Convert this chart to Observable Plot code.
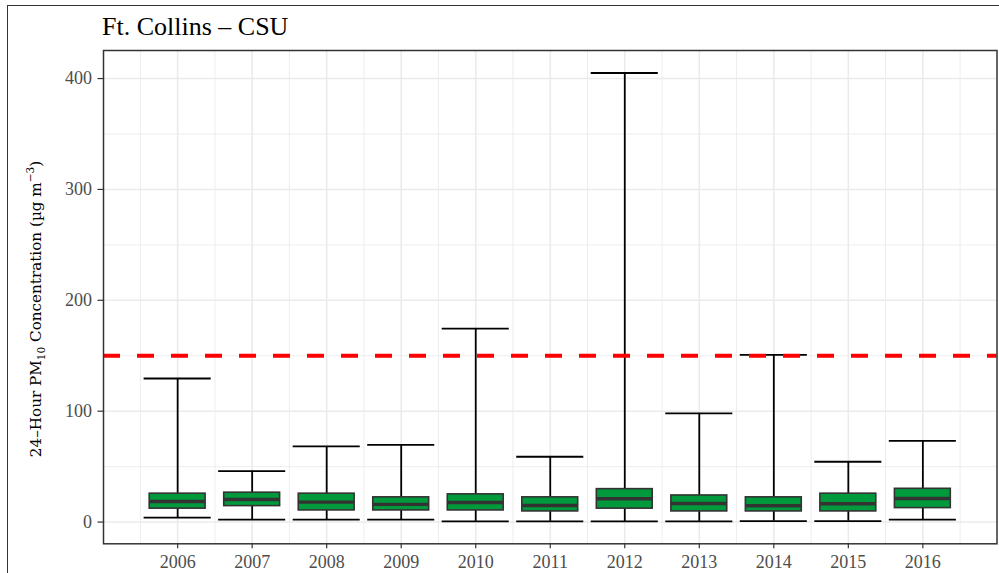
<!DOCTYPE html>
<html>
<head>
<meta charset="utf-8">
<script src="https://cdn.jsdelivr.net/npm/d3@7"></script>
<script src="https://cdn.jsdelivr.net/npm/@observablehq/plot@0.6"></script>
<style>
  html, body { margin: 0; padding: 0; background: #fff; }
  #wrap { position: relative; width: 999px; height: 573px; overflow: hidden; background: #fff; }
  #outer { position: absolute; left: 7px; top: 5px; width: 1200px; height: 800px; border: 1.5px solid #333; }
  #title { position: relative; height: 44px; }
  #title span { position: absolute; left: 102px; top: 14px; font-family: "Liberation Serif", serif; font-size: 26px; line-height: 26px; color: #000; white-space: nowrap; }
  #chart { position: relative; }
</style>
</head>
<body>
<div id="wrap">
  <div id="outer"></div>
  <div id="title"><span>Ft. Collins – CSU</span></div>
  <div id="chart"></div>
</div>
<script>
const years   = [2006, 2007, 2008, 2009, 2010, 2011, 2012, 2013, 2014, 2015, 2016];
const minVal  = [4.0, 2.2, 2.2, 2.2, 0.6, 0.6, 0.6, 0.6, 0.9, 0.9, 2.2];
const q1Val   = [12.1, 14.4, 10.5, 10.5, 10.5, 9.6, 12.1, 9.6, 9.6, 9.6, 12.6];
const medVal  = [18.6, 20.4, 18.0, 16.0, 17.7, 15.0, 21.0, 16.8, 14.7, 16.5, 21.3];
const q3Val   = [25.6, 26.5, 25.6, 22.3, 25.0, 22.3, 29.7, 24.0, 22.3, 25.6, 30.0];
const maxVal  = [129.5, 46.0, 68.2, 69.7, 174.5, 58.9, 405.0, 98.0, 150.8, 54.4, 73.3];
const standard = [150];
const yTicks = [0, 100, 200, 300, 400];
const yMinor = [50, 150, 250, 350];
const xMinor = [2005.5, 2006.5, 2007.5, 2008.5, 2009.5, 2010.5, 2011.5, 2012.5, 2013.5, 2014.5, 2015.5, 2016.5];

const data = years.map((y, i) => ({year: y, min: minVal[i], q1: q1Val[i], med: medVal[i], q3: q3Val[i], max: maxVal[i]}));

const grid = "#EBEBEB";
const chart = Plot.plot({
  width: 999,
  height: 529,
  marginLeft: 103,
  marginRight: 2.5,
  marginTop: 6,
  marginBottom: 29.7,
  style: {fontFamily: "'Liberation Serif', serif", fontSize: "18px", background: "transparent", overflow: "visible"},
  x: {domain: [2005.005, 2016.995]},
  y: {domain: [-19.6, 425.3]},
  marks: [
    Plot.ruleY(yMinor, {stroke: grid, strokeWidth: 0.9}),
    Plot.ruleX(xMinor, {stroke: grid, strokeWidth: 0.9}),
    Plot.ruleY(yTicks, {stroke: grid, strokeWidth: 1.6}),
    Plot.ruleX(years, {stroke: grid, strokeWidth: 1.6}),
    Plot.ruleX(data, {x: "year", y1: "min", y2: "max", stroke: "#000", strokeWidth: 1.8}),
    Plot.ruleY(data, {y: "min", x1: d => d.year - 0.45, x2: d => d.year + 0.45, stroke: "#000", strokeWidth: 1.8}),
    Plot.ruleY(data, {y: "max", x1: d => d.year - 0.45, x2: d => d.year + 0.45, stroke: "#000", strokeWidth: 1.8}),
    Plot.rect(data, {x1: d => d.year - 0.375, x2: d => d.year + 0.375, y1: "q1", y2: "q3", fill: "#009A3C", stroke: "#333", strokeWidth: 1.6}),
    Plot.ruleY(data, {y: "med", x1: d => d.year - 0.375, x2: d => d.year + 0.375, stroke: "#333", strokeWidth: 3.4}),
    Plot.ruleY(standard, {stroke: "#FF0000", strokeWidth: 4, strokeDasharray: "17,17"}),
    Plot.axisY(yTicks, {tickSize: 5.5, tickPadding: 6, stroke: "#333", fill: "#4D4D4D", label: null, strokeWidth: 1.2}),
    Plot.axisX(years, {tickSize: 5, tickPadding: 6, tickFormat: "d", stroke: "#333", fill: "#4D4D4D", label: null, strokeWidth: 1.2}),
    Plot.frame({stroke: "#333", strokeWidth: 1.5})
  ]
});

document.getElementById("chart").appendChild(chart);

// Y-axis title with subscript and superscript
const svg = d3.select(chart);
const cy = 265;
const lab = svg.append("text")
  .attr("transform", `translate(41,${cy}) rotate(-90)`)
  .attr("text-anchor", "middle")
  .attr("font-family", "'DejaVu Serif', serif")
  .attr("font-size", 15.2)
  .attr("fill", "#000");
lab.append("tspan").text("24–Hour PM");
lab.append("tspan").attr("dy", 4).attr("font-size", 10.5).text("10");
lab.append("tspan").attr("dy", -4).text(" Concentration (µg m");
lab.append("tspan").attr("dy", -7).attr("font-size", 10.5).text("−3");
lab.append("tspan").attr("dy", 7).text(")");
</script>
</body>
</html>
